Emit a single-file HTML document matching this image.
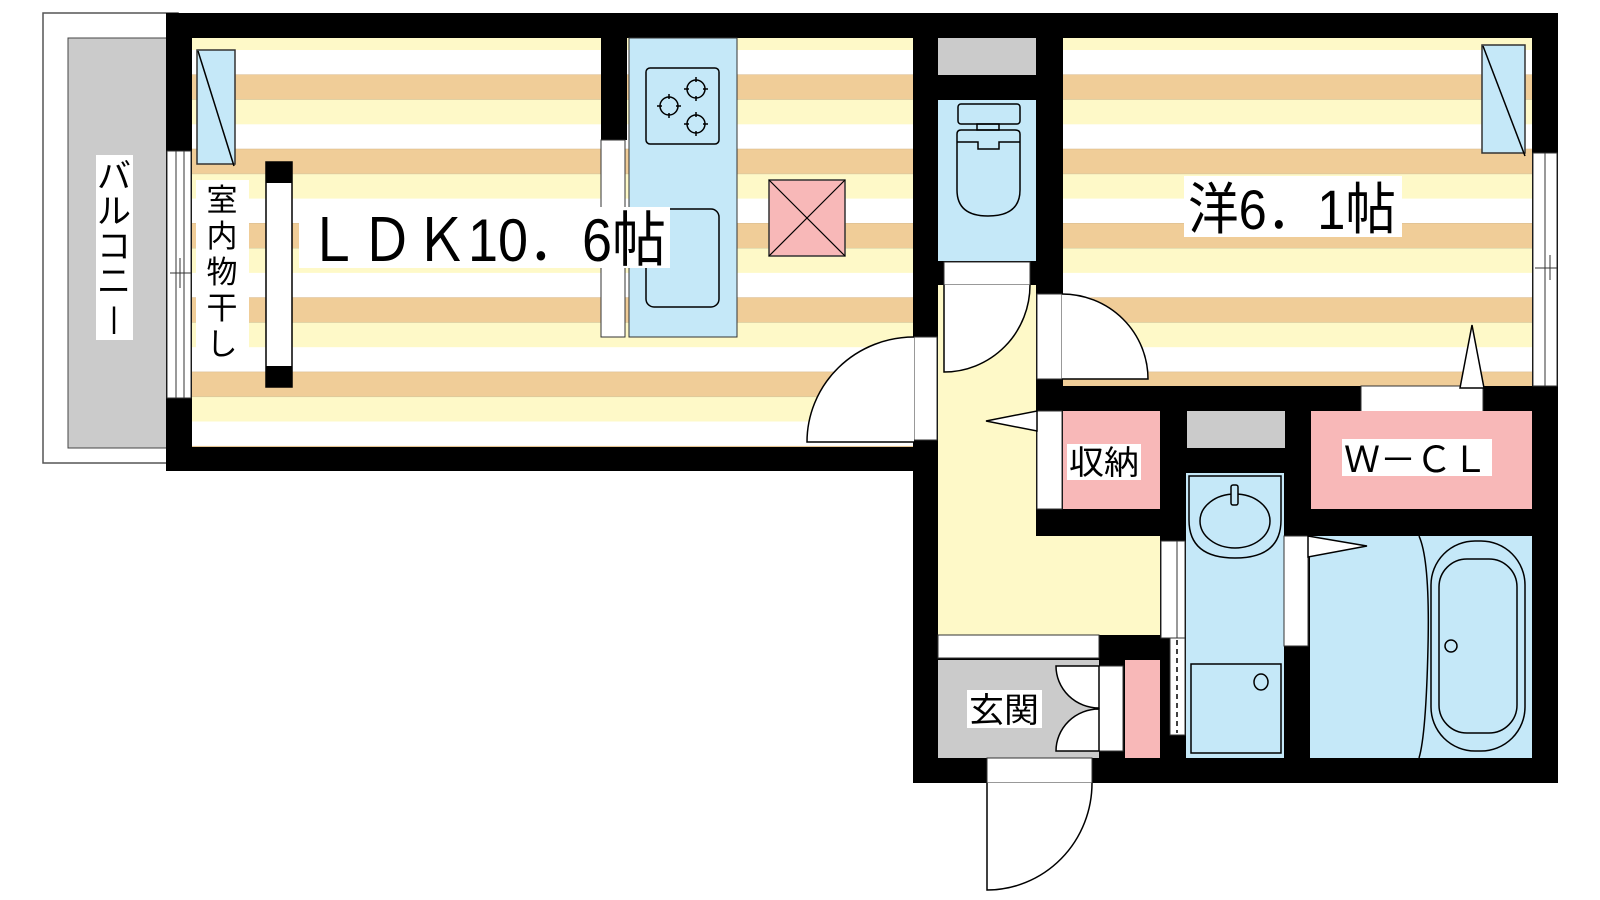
<!DOCTYPE html>
<html><head><meta charset="utf-8"><style>
html,body{margin:0;padding:0;background:#fff;width:1600px;height:900px;overflow:hidden}
svg{display:block}
text{font-family:"Liberation Sans","Noto Sans CJK JP",sans-serif;fill:#000}
</style></head><body>
<svg width="1600" height="900" viewBox="0 0 1600 900" xmlns="http://www.w3.org/2000/svg">
<defs>
<pattern id="st" patternUnits="userSpaceOnUse" x="0" y="50" width="1600" height="74.3">
<rect x="0" y="0" width="1600" height="24.5" fill="#ffffff"/>
<rect x="0" y="24.5" width="1600" height="25" fill="#f0cd98"/>
<rect x="0" y="49.5" width="1600" height="24.8" fill="#fef9c8"/>
</pattern>
</defs>
<rect width="1600" height="900" fill="#fff"/>

<!-- balcony -->
<rect x="43" y="13" width="135" height="450" fill="#fff" stroke="#555" stroke-width="1.5"/>
<rect x="68" y="38" width="100" height="410" fill="#cbcbcb" stroke="#444" stroke-width="1"/>
<rect x="96" y="155" width="37" height="185" fill="#fff"/>
<g font-size="34">
<text x="114" y="188" text-anchor="middle">バ</text>
<text x="114" y="223" text-anchor="middle">ル</text>
<text x="114" y="258" text-anchor="middle">コ</text>
<text x="114" y="293" text-anchor="middle">ニ</text>
<text x="114" y="328" text-anchor="middle" font-size="30">|</text>
</g>

<!-- building black -->
<polygon points="166,13 1558,13 1558,783 913,783 913,471 166,471" fill="#000"/>

<rect x="192" y="38" width="721" height="409" fill="url(#st)"/>
<rect x="1063" y="38" width="469" height="348" fill="url(#st)"/>

<!-- left wall window -->
<rect x="167" y="151" width="24" height="247" fill="#fff" stroke="#333" stroke-width="1"/>
<line x1="176" y1="151" x2="176" y2="398" stroke="#333" stroke-width="1"/>
<line x1="184" y1="151" x2="184" y2="398" stroke="#333" stroke-width="1"/>
<line x1="170" y1="273" x2="191" y2="273" stroke="#333" stroke-width="1"/>
<line x1="180" y1="258" x2="180" y2="288" stroke="#333" stroke-width="1"/>

<!-- right wall window -->
<rect x="1533" y="153" width="24" height="233" fill="#fff" stroke="#333" stroke-width="1"/>
<line x1="1545" y1="153" x2="1545" y2="386" stroke="#333" stroke-width="1"/>
<line x1="1535" y1="268" x2="1557" y2="268" stroke="#333" stroke-width="1"/>
<line x1="1550" y1="255" x2="1550" y2="280" stroke="#333" stroke-width="1"/>

<rect x="197" y="50" width="38" height="114" fill="#c5e8f8" stroke="#333" stroke-width="1.5"/>
<line x1="198" y1="51" x2="234" y2="166" stroke="#000" stroke-width="1.5"/>
<rect x="1482" y="45" width="43" height="108" fill="#c5e8f8" stroke="#333" stroke-width="1.5"/>
<line x1="1483" y1="46" x2="1525" y2="156" stroke="#000" stroke-width="1.5"/>

<!-- drying rod -->
<rect x="266" y="162" width="26" height="225" fill="#fff" stroke="#000" stroke-width="1.5"/>
<rect x="266" y="162" width="26" height="21" fill="#000"/>
<rect x="266" y="366" width="26" height="21" fill="#000"/>
<rect x="196" y="180" width="53" height="182" fill="#fff"/>
<g font-size="31">
<text x="222" y="211" text-anchor="middle">室</text>
<text x="222" y="247" text-anchor="middle">内</text>
<text x="222" y="283" text-anchor="middle">物</text>
<text x="222" y="319" text-anchor="middle">干</text>
<text x="222" y="355" text-anchor="middle">し</text>
</g>

<!-- kitchen -->
<rect x="601" y="38" width="26" height="102" fill="#000"/>
<rect x="601" y="140" width="24" height="197" fill="#fff" stroke="#333" stroke-width="1"/>
<rect x="629" y="38" width="108" height="299" fill="#c5e8f8" stroke="#333" stroke-width="1"/>
<rect x="646" y="68" width="73" height="76" rx="4" fill="none" stroke="#000" stroke-width="1.5"/>
<g fill="none" stroke="#000" stroke-width="1.5">
<circle cx="669" cy="106" r="9"/><circle cx="696" cy="89" r="9"/><circle cx="696" cy="124" r="9"/>
<path d="M669,94v5M669,113v5M657,106h5M676,106h5M696,77v5M696,96v5M684,89h5M703,89h5M696,112v5M696,131v5M684,124h5M703,124h5"/>
</g>
<rect x="646" y="209" width="73" height="98" rx="8" fill="none" stroke="#000" stroke-width="1.5"/>
<rect x="769" y="180" width="76" height="76" fill="#f8b8b8" stroke="#333" stroke-width="1.5"/>
<line x1="769" y1="180" x2="845" y2="256" stroke="#000" stroke-width="1.2"/>
<line x1="845" y1="180" x2="769" y2="256" stroke="#000" stroke-width="1.2"/>

<!-- LDK label (on top of kitchen) -->
<rect x="299" y="207" width="371" height="61" fill="#fff"/>
<text x="306" y="261" font-size="60" textLength="360" lengthAdjust="spacingAndGlyphs">ＬＤＫ10．6帖</text>

<!-- LDK door -->
<rect x="914" y="337" width="23" height="103" fill="#fff" stroke="#333" stroke-width="1"/>
<path d="M914,337 A107,105 0 0 0 807,442 L914,442" fill="#fff" stroke="#000" stroke-width="1.5"/>

<rect x="938" y="38" width="98" height="37" fill="#cbcbcb"/>
<rect x="938" y="100" width="98" height="161" fill="#c5e8f8"/>
<g fill="none" stroke="#000" stroke-width="1.5">
<rect x="958" y="104" width="62" height="20" rx="3"/>
<rect x="977" y="124" width="22" height="6"/>
<path d="M957,134 Q957,130 961,130 L1015,130 Q1020,130 1020,134 L1020,190 Q1020,216 988,216 Q957,216 957,190 Z"/>
<path d="M957,142 L978,142 L978,149 L999,149 L999,142 L1020,142"/>
</g>

<rect x="938" y="285" width="98" height="350" fill="#fef9c8"/>
<rect x="1036" y="536" width="124" height="99" fill="#fef9c8"/>
<rect x="944" y="262" width="86" height="23" fill="#fff" stroke="#333" stroke-width="1"/>
<path d="M944,285 L944,372 A86,87 0 0 0 1030,285" fill="#fff" stroke="#000" stroke-width="1.5"/>
<rect x="1037" y="294" width="25" height="85" fill="#fff" stroke="#333" stroke-width="1"/>
<path d="M1062,294 A86,85 0 0 1 1148,379 L1062,379" fill="#fff" stroke="#000" stroke-width="1.5"/>

<rect x="1184" y="176" width="218" height="61" fill="#fff"/>
<text x="1188" y="229" font-size="56" textLength="208" lengthAdjust="spacingAndGlyphs">洋6．1帖</text>

<rect x="1361" y="386" width="122" height="26" fill="#fff" stroke="#333" stroke-width="1"/>
<polygon points="1472,325 1460,388 1484,388" fill="#fff" stroke="#000" stroke-width="1.5"/>

<rect x="1063" y="411" width="97" height="98" fill="#f8b8b8"/>
<rect x="1037" y="411" width="25" height="98" fill="#fff" stroke="#333" stroke-width="1"/>
<polygon points="986,421 1037,411 1037,431" fill="#fff" stroke="#000" stroke-width="1.5"/>
<rect x="1067" y="444" width="74" height="36" fill="#fff"/>
<text x="1069" y="474" font-size="33" textLength="70" lengthAdjust="spacingAndGlyphs">収納</text>

<rect x="1187" y="411" width="98" height="37" fill="#cbcbcb"/>

<rect x="1311" y="411" width="221" height="98" fill="#f8b8b8"/>
<rect x="1342" y="439" width="150" height="37" fill="#fff"/>
<text x="1344" y="472" font-size="36" textLength="144" lengthAdjust="spacingAndGlyphs">Ｗ－ＣＬ</text>

<rect x="1186" y="473" width="98" height="285" fill="#c5e8f8"/>
<g fill="none" stroke="#000" stroke-width="1.5">
<path d="M1189,476 L1281,476 L1281,520 Q1281,558 1235,558 Q1189,558 1189,520 Z"/>
<ellipse cx="1235" cy="521" rx="35" ry="27"/>
<rect x="1231" y="485" width="7" height="20" rx="2" fill="#c5e8f8"/>
<rect x="1191" y="664" width="90" height="89"/>
<ellipse cx="1261" cy="682" rx="7" ry="8"/>
</g>
<rect x="1161" y="541" width="24" height="97" fill="#fff" stroke="#333" stroke-width="1"/>
<line x1="1177" y1="541" x2="1177" y2="638" stroke="#333" stroke-width="1"/>
<rect x="1170" y="638" width="15" height="97" fill="#fff" stroke="#333" stroke-width="1"/>
<line x1="1177" y1="640" x2="1177" y2="733" stroke="#000" stroke-width="1.5" stroke-dasharray="5,4"/>

<rect x="1310" y="536" width="222" height="222" fill="#c5e8f8"/>
<rect x="1284" y="536" width="24" height="110" fill="#fff" stroke="#333" stroke-width="1"/>
<polygon points="1367,546 1308,536 1308,557" fill="#fff" stroke="#000" stroke-width="1.5"/>
<g fill="none" stroke="#000" stroke-width="1.5">
<path d="M1419,536 Q1430,560 1428,647 Q1426,735 1419,758"/>
<rect x="1431" y="541" width="94" height="210" rx="44"/>
<rect x="1439" y="559" width="78" height="174" rx="28"/>
<circle cx="1451" cy="646" r="6"/>
</g>

<rect x="938" y="635" width="161" height="23" fill="#fff" stroke="#333" stroke-width="1"/>
<rect x="938" y="660" width="161" height="98" fill="#cbcbcb"/>
<rect x="1125" y="660" width="35" height="98" fill="#f8b8b8"/>
<rect x="1099" y="666" width="24" height="85" fill="#fff" stroke="#333" stroke-width="1"/>
<path d="M1099,666 L1056,666 A43,42 0 0 0 1099,708 Z" fill="#fff" stroke="#000" stroke-width="1.5"/>
<path d="M1099,751 L1056,751 A43,42 0 0 1 1099,709 Z" fill="#fff" stroke="#000" stroke-width="1.5"/>
<rect x="967" y="690" width="75" height="38" fill="#fff"/>
<text x="969" y="722" font-size="34" textLength="70" lengthAdjust="spacingAndGlyphs">玄関</text>

<rect x="987" y="758" width="105" height="25" fill="#fff" stroke="#333" stroke-width="1"/>
<path d="M987,783 L987,890 A105,107 0 0 0 1092,783" fill="#fff" stroke="#000" stroke-width="1.5"/>
</svg>
</body></html>
